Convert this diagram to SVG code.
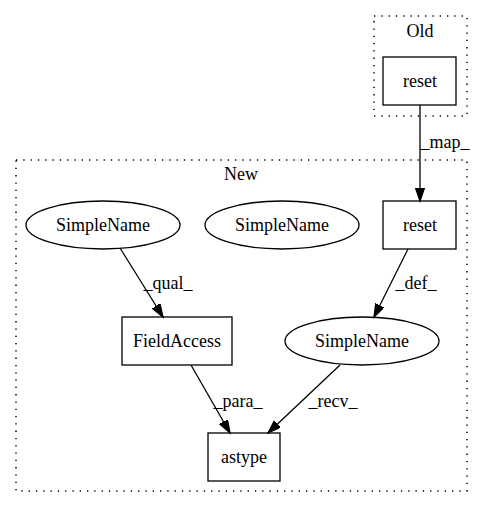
<svg xmlns="http://www.w3.org/2000/svg" width="483" height="508" viewBox="0 0 483 508">
<style>
text{font-family:"Liberation Serif","Times New Roman",serif;font-size:18px;text-anchor:middle;fill:#000}
.cl{fill:none;stroke:#000;stroke-dasharray:1.3,6;stroke-width:1.5}
.n{fill:none;stroke:#000;stroke-width:1.3}
.e{stroke:#000;stroke-width:1.3;fill:none}
</style>
<defs>
<marker id="ah" markerUnits="userSpaceOnUse" markerWidth="15" markerHeight="12" refX="13" refY="4.5" orient="auto" viewBox="0 0 15 12">
<polygon points="0,0 13,4.5 0,9" fill="#000" stroke="#000" stroke-width="1.3"/>
</marker>
</defs>
<g id="cluster_old">
<rect class="cl" x="374" y="16" width="93" height="100"/>
<text x="420" y="37">Old</text>
</g>
<g id="cluster_new">
<rect class="cl" x="16" y="160" width="451" height="331"/>
<text x="241" y="180">New</text>
</g>
<g id="connectors">
<line class="e" x1="420" y1="105" x2="420" y2="201" marker-end="url(#ah)"/>
<text x="445" y="148">_map_</text>
<line class="e" x1="120" y1="248" x2="163" y2="317" marker-end="url(#ah)"/>
<text x="168" y="289">_qual_</text>
<line class="e" x1="408" y1="249" x2="374" y2="317" marker-end="url(#ah)"/>
<text x="416" y="289">_def_</text>
<line class="e" x1="191" y1="365" x2="230" y2="433" marker-end="url(#ah)"/>
<text x="238" y="407">_para_</text>
<line class="e" x1="340" y1="365" x2="268" y2="433" marker-end="url(#ah)"/>
<text x="333" y="407">_recv_</text>
</g>
<g id="reset_old">
<rect class="n" x="383" y="57" width="73" height="48"/>
<text x="420" y="87">reset</text>
</g>
<g id="reset_new">
<rect class="n" x="383" y="201" width="73" height="48"/>
<text x="420" y="231">reset</text>
</g>
<g id="simplename1">
<ellipse class="n" cx="103" cy="225" rx="77" ry="24"/>
<text x="103" y="231">SimpleName</text>
</g>
<g id="simplename2">
<ellipse class="n" cx="282" cy="225" rx="77" ry="24"/>
<text x="282" y="231">SimpleName</text>
</g>
<g id="fieldaccess">
<rect class="n" x="122" y="317" width="110" height="48"/>
<text x="177" y="347">FieldAccess</text>
</g>
<g id="simplename3">
<ellipse class="n" cx="362" cy="341" rx="77" ry="24"/>
<text x="362" y="347">SimpleName</text>
</g>
<g id="astype">
<rect class="n" x="208" y="433" width="72" height="48"/>
<text x="244" y="463">astype</text>
</g>
</svg>
